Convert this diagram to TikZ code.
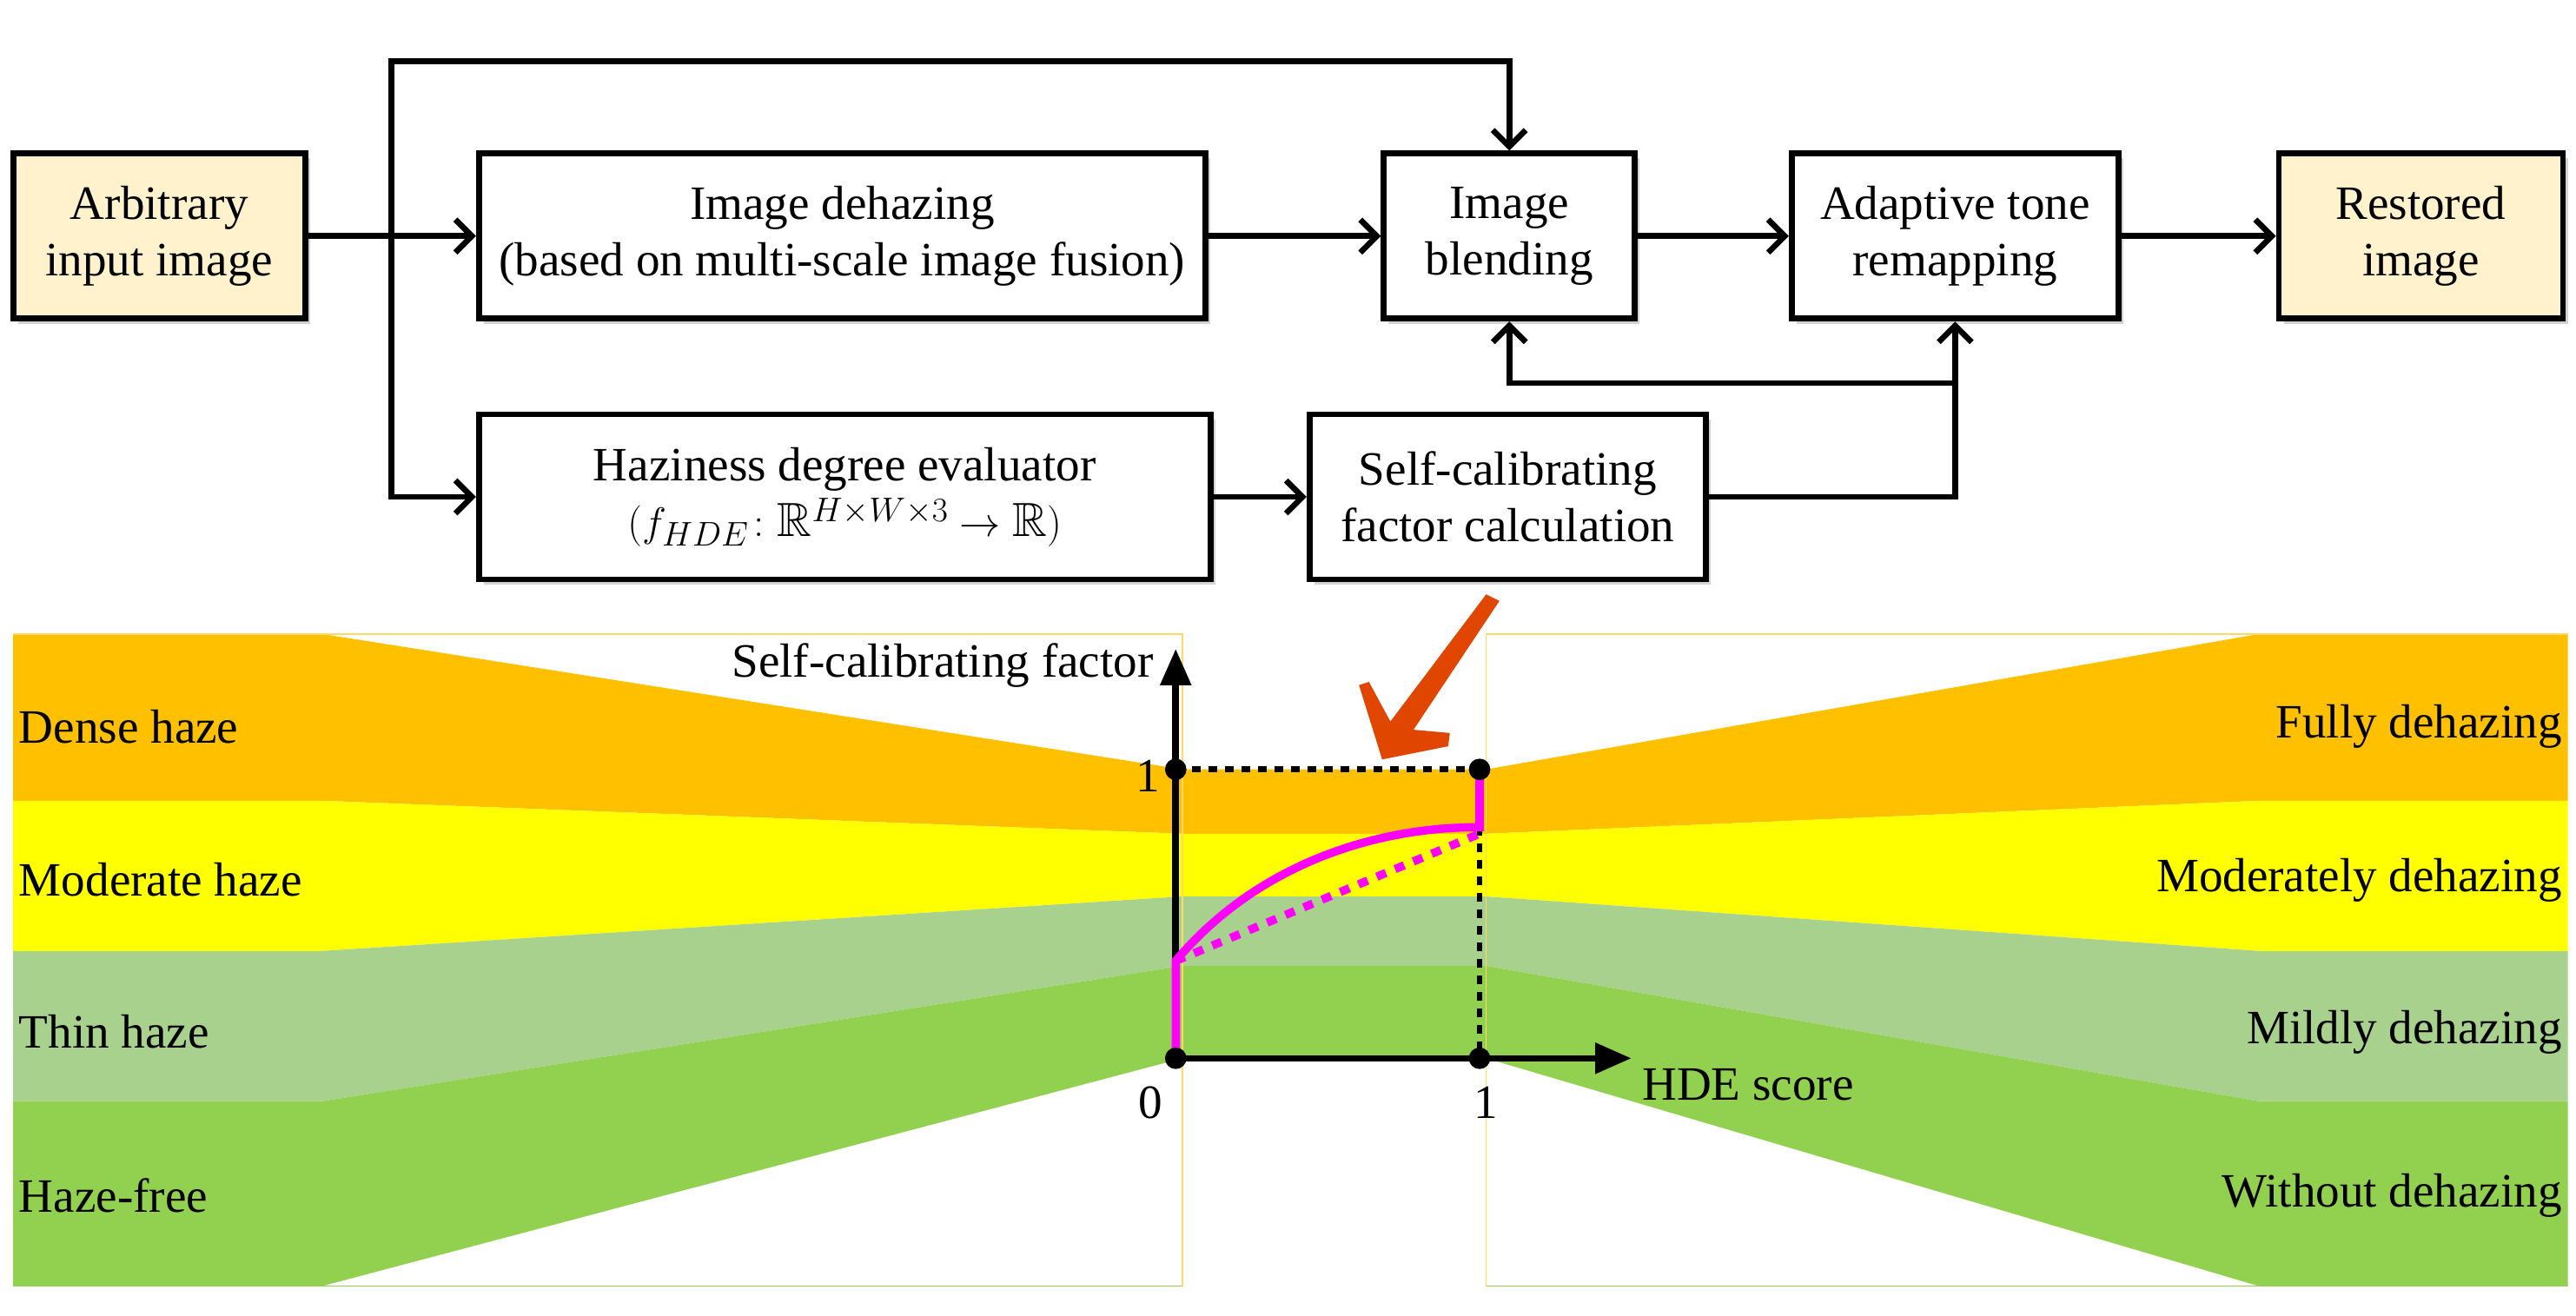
\documentclass[tikz,border=0pt]{standalone}
\usepackage{amsmath}
\usepackage{amssymb}
\usepackage{fontspec}
\setmainfont{Liberation Serif}
\usetikzlibrary{arrows.meta,positioning,shadows}
\definecolor{cream}{RGB}{255,242,204}
\definecolor{hzorange}{RGB}{255,192,0}
\definecolor{hzyellow}{RGB}{255,255,0}
\definecolor{hzlgreen}{RGB}{169,209,142}
\definecolor{hzgreen}{RGB}{146,208,80}
\definecolor{brush}{RGB}{224,70,0}
\definecolor{curve}{RGB}{255,0,255}
\tikzset{
  block/.style={draw,line width=3.5pt,fill=white,align=center,minimum height=100pt,
                drop shadow={shadow xshift=3pt,shadow yshift=-3pt,opacity=0.35}},
  io/.style={block,fill=cream},
  flow/.style={->,line width=3.5pt,>={Straight Barb[length=10pt,width=20pt,line width=3.5pt]}},
  axis/.style={line width=4pt,-{Triangle[length=22pt,width=18pt]}},
  dot/.style={circle,fill=black,inner sep=0pt,minimum size=13pt}
}
\begin{document}
\begin{tikzpicture}[x=1pt,y=-1pt,font=\fontsize{29}{34}\selectfont]
\useasboundingbox (0,0) rectangle (1560,796.6);

% colour bands
\foreach \col/\to/\bo/\ti/\bi in {hzorange/384/485/466/505,hzyellow/485/576/505/543,
                                  hzlgreen/576/667/543/585,hzgreen/667/779/585/641}
  \fill[\col] (8,\to)--(195,\to)--(716,\ti)--(900,\ti)--(1368,\to)--(1555,\to)
     --(1555,\bo)--(1368,\bo)--(900,\bi)--(716,\bi)--(195,\bo)--(8,\bo)--cycle;
\draw[hzorange!60,line width=0.8pt] (8,384)--(716,384)--(716,779);
\draw[hzorange!60,line width=0.8pt] (1555,384)--(900,384)--(900,779);
\draw[hzgreen,line width=0.8pt] (8,779)--(716,779) (900,779)--(1555,779);

% top blocks
\node[io,minimum width=177pt] (input) at (96.5,143) {Arbitrary\\input image};
\node[block,minimum width=440pt] (dehaze) at (510,143) {Image dehazing\\(based on multi-scale image fusion)};
\node[block,minimum width=152pt] (blend) at (914,143) {Image\\blending};
\node[block,minimum width=198pt] (tone) at (1184,143) {Adaptive tone\\remapping};
\node[io,minimum width=172pt] (out) at (1466,143) {Restored\\image};
\node[block,minimum width=443pt] (hde) at (511.5,301) {Haziness degree evaluator\\$(f_{HDE}\colon\mathbb{R}^{H\times W\times 3}\rightarrow\mathbb{R})$};
\node[block,minimum width=240pt] (calib) at (913,301) {Self-calibrating\\factor calculation};

\coordinate (split) at (237,143);
\coordinate (merge) at (1185,232);

\draw[flow] (input) -- (dehaze);
\draw[flow] (split) |- (hde);
\draw[flow] (split) |- (237,37) -| (blend);
\draw[flow] (dehaze) -- (blend);
\draw[flow] (blend) -- (tone);
\draw[flow] (tone) -- (out);
\draw[flow] (hde) -- (calib);
\draw[flow] (calib) -| (tone);
\draw[flow] (merge) -| (blend);

% plot
\coordinate (orig) at (712,641);
\coordinate (yone) at (712,466);
\coordinate (xone) at (896,466);
\coordinate (xend) at (896,641);
\coordinate (start) at (712,582);
\coordinate (knee) at (896,501);
\draw[line width=3.5pt,dash pattern=on 5pt off 5pt] (yone) -- (xone);
\draw[line width=3.5pt,dash pattern=on 5pt off 5pt] (knee) -- (xend);
\draw[axis] (orig) -- (712,393);
\draw[axis] (orig) -- (988,641);
\draw[curve,line width=5pt,dash pattern=on 6pt off 6pt] (start) -- (896,505);
\draw[curve,line width=5pt] (orig) -- (start) .. controls (760,525) and (830,501) .. (knee) -- (896,472);
\foreach \p in {orig,yone,xone,xend} \node[dot] at (\p) {};

\node[anchor=east] (ylab) at (702,403) {Self-calibrating factor};
\node[anchor=east] (ytick) at (706,470) {1};
\node (xzero) at (697,668) {0};
\node (xtick) at (900,668) {1};
\node[anchor=west] (xlab) at (991,657) {HDE score};

% brush tick
\fill[brush] (837,460)--(823,415)--(829,413)--(842,437)--(900,360)--(908,364)
   --(856,442)--(878,444)--(877,452)--cycle;

% band labels
\foreach \t/\y in {Dense haze/440,Moderate haze/533,Thin haze/625,Haze-free/724}
  \node[anchor=west] at (8,\y) {\t};
\foreach \t/\y in {Fully dehazing/440,Moderately dehazing/533,Mildly dehazing/625,Without dehazing/724}
  \node[anchor=east] at (1555,\y) {\t};
\end{tikzpicture}
\end{document}
